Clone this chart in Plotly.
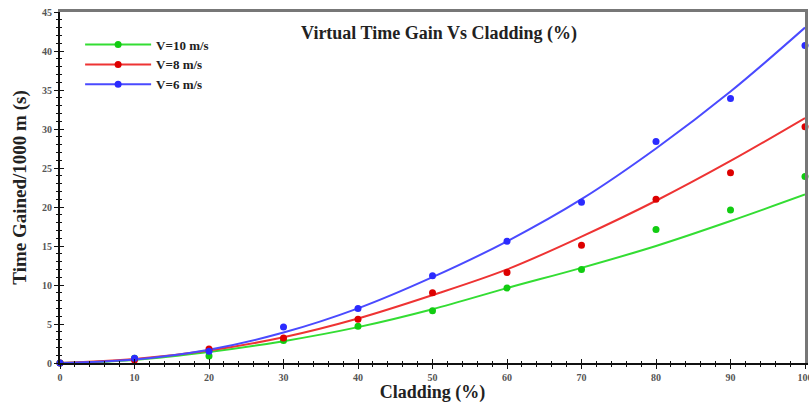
import plotly.graph_objects as go

cladding = [0, 10, 20, 30, 40, 50, 60, 70, 80, 90, 100]

# measured points
v10_pts = [0, 0.6, 0.9, 2.9, 4.7, 6.7, 9.6, 12.0, 17.1, 19.6, 23.9]
v8_pts = [0, 0.4, 1.8, 3.2, 5.6, 9.0, 11.6, 15.1, 21.0, 24.4, 30.3]
v6_pts = [0, 0.6, 1.5, 4.6, 7.0, 11.2, 15.6, 20.6, 28.4, 33.9, 40.7]

# fitted trend lines
v10_fit = [0, 0.4, 1.4, 2.8, 4.6, 6.9, 9.6, 12.2, 15.0, 18.2, 21.6]
v8_fit = [0, 0.5, 1.6, 3.3, 5.7, 8.7, 12.0, 16.2, 20.8, 25.9, 31.4]
v6_fit = [0, 0.45, 1.7, 3.9, 7.0, 11.0, 15.6, 21.0, 27.5, 34.8, 43.0]

series = [
    ("V=10 m/s", v10_pts, v10_fit, "#11cc11", "#33dd33"),
    ("V=8 m/s", v8_pts, v8_fit, "#dd0000", "#ee3333"),
    ("V=6 m/s", v6_pts, v6_fit, "#2b2bff", "#4a4aff"),
]

x_ticks = [0, 10, 20, 30, 40, 50, 60, 70, 80, 90, 100]
y_ticks = [0, 5, 10, 15, 20, 25, 30, 35, 40, 45]

SERIF = "Liberation Serif"
fig = go.Figure()

for name, pts, fit, mcol, lcol in series:
    fig.add_trace(go.Scatter(x=cladding, y=fit, mode="lines", line=dict(color=lcol, width=2, shape="spline"),
                             showlegend=False, hoverinfo="skip", cliponaxis=False))
for name, pts, fit, mcol, lcol in series:
    fig.add_trace(go.Scatter(x=cladding, y=pts, mode="markers", marker=dict(color=mcol, size=7),
                             showlegend=False, name=name, cliponaxis=False))
for name, pts, fit, mcol, lcol in series:
    fig.add_trace(go.Scatter(x=[None], y=[None], mode="lines+markers", name=name,
                             line=dict(color=lcol, width=2), marker=dict(color=mcol, size=7)))

tickfont = dict(family=SERIF, size=10, color="#555555", weight="bold")

W, H = 809, 403

fig.update_layout(
    width=W, height=H,
    margin=dict(l=60, r=4, t=12, b=40, autoexpand=False),
    paper_bgcolor="white", plot_bgcolor="white",
    showlegend=True,
    legend=dict(x=0.027, y=0.95, xanchor="left", yanchor="top", bgcolor="rgba(0,0,0,0)",
                font=dict(family=SERIF, size=13, color="#222222", weight="bold"),
                itemwidth=66, tracegroupgap=0),
    title=dict(text="Virtual Time Gain Vs Cladding (%)", x=439 / W, xanchor="center",
               y=1 - 33 / H, yanchor="middle",
               font=dict(family=SERIF, size=18, color="#222222", weight="bold")),
    xaxis=dict(range=[0, 100], tickvals=x_ticks, ticktext=[str(v) for v in x_ticks],
               showgrid=False, zeroline=False, showline=True, linecolor="#111111", linewidth=2,
               ticks="outside", ticklen=4, tickwidth=1, tickcolor="#111111",
               minor=dict(dtick=2, ticks="outside", ticklen=2, tickcolor="#111111"),
               tickfont=tickfont, ticklabeloverflow="allow", automargin=False,
               title=dict(text="Cladding (%)", standoff=3,
                          font=dict(family=SERIF, size=18, color="#222222", weight="bold"))),
    yaxis=dict(range=[0, 45], tickvals=y_ticks, ticktext=[str(v) for v in y_ticks],
               showgrid=False, zeroline=False, showline=True, linecolor="#111111", linewidth=2,
               ticks="outside", ticklen=4, tickwidth=1, tickcolor="#111111",
               minor=dict(dtick=1, ticks="outside", ticklen=2, tickcolor="#111111"),
               tickfont=tickfont, ticklabeloverflow="allow", automargin=False,
               title=dict(text="Time Gained/1000 m (s)", standoff=10,
                          font=dict(family=SERIF, size=19, color="#222222", weight="bold"))),
    xaxis2=dict(overlaying="x", range=[0, 100], side="bottom", showticklabels=False,
                showgrid=False, zeroline=False, showline=False, automargin=False,
                tickvals=x_ticks, ticks="inside", ticklen=4, tickcolor="#111111",
                minor=dict(dtick=2, ticks="inside", ticklen=2, tickcolor="#111111")),
    yaxis2=dict(overlaying="y", range=[0, 45], side="left", showticklabels=False,
                showgrid=False, zeroline=False, showline=False, automargin=False,
                tickvals=y_ticks, ticks="inside", ticklen=4, tickcolor="#111111",
                minor=dict(dtick=1, ticks="inside", ticklen=2, tickcolor="#111111")),
    xaxis3=dict(overlaying="x", range=[0, 100], side="top", showticklabels=False,
                showgrid=False, zeroline=False, showline=True, linecolor="#777777", linewidth=3,
                ticks="", automargin=False),
    yaxis3=dict(overlaying="y", range=[0, 45], side="right", showticklabels=False,
                showgrid=False, zeroline=False, showline=True, linecolor="#777777", linewidth=3,
                ticks="", automargin=False),
)

# invisible anchor traces so the overlay axes are drawn
fig.add_trace(go.Scatter(x=[None], y=[None], xaxis="x2", yaxis="y2", showlegend=False))
fig.add_trace(go.Scatter(x=[None], y=[None], xaxis="x3", yaxis="y3", showlegend=False))

# remove the default page margin so the 809x403 figure fills the window exactly
fig.write_html("out.html", config={"displayModeBar": False},
               post_script="document.body.style.margin='0';document.body.style.overflow='hidden';")
